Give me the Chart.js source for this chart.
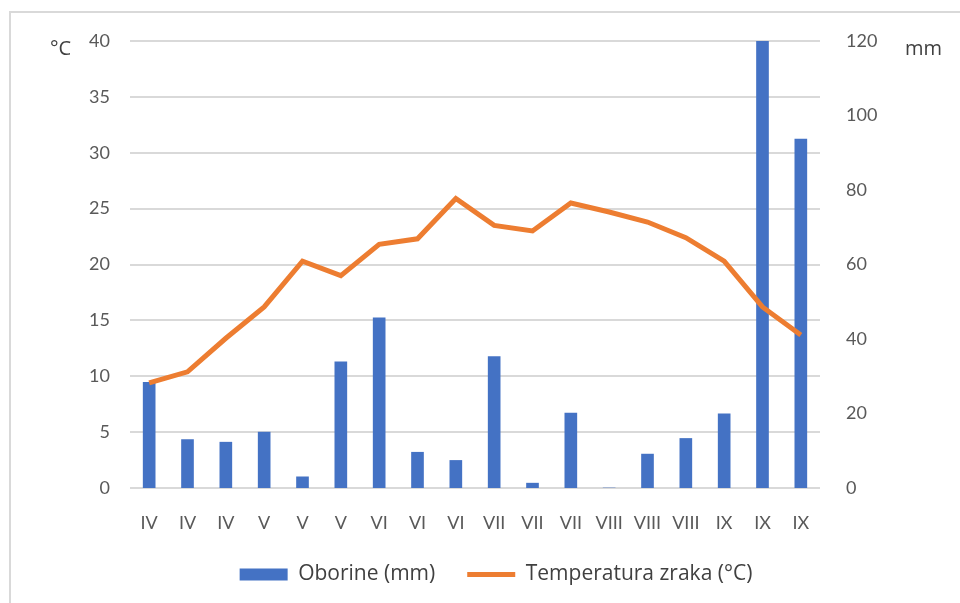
<!DOCTYPE html>
<html>
<head>
<meta charset="utf-8">
<script src="https://cdn.jsdelivr.net/npm/chart.js@4/dist/chart.umd.min.js"></script>
<style>
  html, body { margin: 0; padding: 0; background: #ffffff; }
  #wrap { width: 960px; height: 603px; }
</style>
</head>
<body>
<div id="wrap"><canvas id="chart_canvas" width="960" height="603"></canvas></div>
<script>
// Months along the x axis (three readings per month)
var months = ['IV', 'IV', 'IV', 'V', 'V', 'V', 'VI', 'VI', 'VI', 'VII', 'VII', 'VII',
              'VIII', 'VIII', 'VIII', 'IX', 'IX', 'IX'];

// Precipitation in mm (right axis)
var oborine = [28.4, 13.0, 12.3, 15.0, 3.0, 33.9, 45.7, 9.6, 7.4, 35.3, 1.3, 20.1,
               0, 9.1, 13.3, 19.9, 120, 93.7];

// Air temperature in °C (left axis)
var temperatura = [9.4, 10.4, 13.4, 16.2, 20.3, 19.0, 21.8, 22.3, 25.9, 23.5, 23.0, 25.5,
                   24.7, 23.8, 22.4, 20.3, 16.2, 13.7];

var tickColor = '#595959';
var gridColor = '#d9d9d9';
var fontFamily = 'Lato, "Open Sans", sans-serif';
var legendFont = '"Open Sans", Lato, sans-serif';

// Unit labels above the axes, the light frame, and a small nudge of the legend
var extras = {
    id: 'extras',
    afterLayout: function (chart) {
        // legend in the original sits a bit right of the canvas centre
        chart.legend.left += 16;
        chart.legend.right += 16;
    },
    afterDraw: function (chart) {
        var ctx = chart.ctx;
        ctx.save();
        ctx.strokeStyle = '#d9d9d9';
        ctx.lineWidth = 2;
        ctx.strokeRect(10, 12, 1200, 1200);
        ctx.fillStyle = '#404040';
        ctx.font = '20px ' + legendFont;
        ctx.textBaseline = 'middle';
        ctx.textAlign = 'left';
        ctx.fillText('°C', 50, 49);
        ctx.fillText('mm', 905, 49);
        ctx.restore();
    }
};

var context = document.getElementById('chart_canvas').getContext('2d');

var chart = new Chart(context, {
    type: 'bar',
    data: {
        labels: months,
        datasets: [{
            type: 'bar',
            label: 'Oborine (mm)',
            data: oborine,
            yAxisID: 'yMm',
            backgroundColor: '#4472c4',
            barThickness: 12,
            order: 2
        }, {
            type: 'line',
            label: 'Temperatura zraka (°C)',
            data: temperatura,
            yAxisID: 'yTemp',
            borderColor: '#ed7d31',
            backgroundColor: '#ed7d31',
            borderWidth: 5,
            pointRadius: 0,
            tension: 0,
            order: 1
        }]
    },
    options: {
        responsive: false,
        animation: false,
        layout: { padding: { top: 41, bottom: 8, left: 0, right: 0 } },
        plugins: {
            tooltip: { enabled: false },
            legend: {
                position: 'bottom',
                labels: {
                    usePointStyle: true,
                    pointStyleWidth: 48,
                    boxHeight: 12,
                    padding: 32,
                    color: '#404040',
                    font: { family: legendFont, size: 21 },
                    sort: function (a, b) { return a.datasetIndex - b.datasetIndex; },
                    generateLabels: function (chart) {
                        return chart.data.datasets.map(function (ds, i) {
                            return {
                                text: ds.label,
                                datasetIndex: i,
                                fillStyle: ds.backgroundColor,
                                strokeStyle: ds.type === 'line' ? ds.borderColor : ds.backgroundColor,
                                lineWidth: ds.type === 'line' ? 5 : 0,
                                pointStyle: ds.type === 'line' ? 'line' : 'rect',
                                fontColor: '#404040',
                                hidden: false
                            };
                        });
                    }
                }
            }
        },
        scales: {
            x: {
                grid: { display: false, drawTicks: false },
                border: { display: false },
                ticks: { color: tickColor, padding: 24, font: { family: fontFamily, size: 18 }, maxRotation: 0, autoSkip: false },
                afterFit: function (scale) { scale.height = 44; }
            },
            yTemp: {
                position: 'left',
                min: 0,
                max: 40,
                ticks: { stepSize: 5, color: tickColor, padding: 20, font: { family: fontFamily, size: 18 } },
                grid: { color: gridColor, lineWidth: 2, drawTicks: false },
                border: { display: false },
                afterFit: function (scale) { scale.width = 130; }
            },
            yMm: {
                position: 'right',
                min: 0,
                max: 120,
                ticks: { stepSize: 20, color: tickColor, padding: 26, font: { family: fontFamily, size: 18 } },
                grid: { display: false, drawTicks: false },
                border: { display: false },
                afterFit: function (scale) { scale.width = 140; }
            }
        }
    },
    plugins: [extras]
});
</script>
</body>
</html>
